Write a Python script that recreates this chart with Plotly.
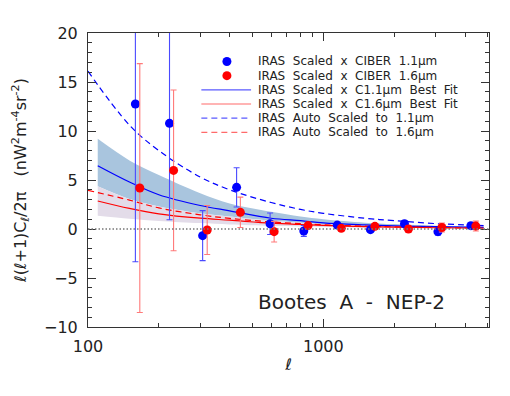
import plotly.graph_objects as go

# ---------------- data ----------------
ell_11 = [159, 222, 307, 428, 594, 826, 1146, 1586, 2212, 3069, 4237]
cl_11 = [12.76, 10.78, -0.68, 4.25, 0.54, -0.2, 0.4, -0.07, 0.54, -0.27, 0.34]
err_11 = [16.1, 9.83, 2.55, 2.0, 1.1, 0.55, 0.25, 0.2, 0.3, 0.35, 0.3]

ell_16 = [166, 231, 321, 444, 618, 861, 1192, 1656, 2300, 3190, 4446]
cl_16 = [4.18, 5.98, -0.1, 1.7, -0.27, 0.35, 0.07, 0.27, 0.0, 0.15, 0.3]
err_16 = [12.7, 8.2, 2.5, 1.55, 1.05, 0.33, 0.25, 0.25, 0.3, 0.45, 0.5]

ell_fit = [110, 150, 200, 300, 400, 600, 800, 1000, 1500, 2000, 3000, 4000, 4800]
fit_11 = [6.46, 4.8, 3.5, 2.4, 1.85, 1.1, 0.85, 0.62, 0.42, 0.32, 0.24, 0.19, 0.17]
band_11_hi = [9.2, 7.0, 5.5, 3.65, 2.6, 1.75, 1.27, 1.0, 0.65, 0.5, 0.33, 0.26, 0.22]
fit_16 = [2.86, 2.1, 1.55, 1.1, 0.9, 0.6, 0.46, 0.37, 0.25, 0.2, 0.13, 0.1, 0.09]
band_16_hi = [4.35, 3.05, 2.3, 1.6, 1.28, 0.85, 0.65, 0.52, 0.36, 0.28, 0.19, 0.15, 0.13]
band_16_lo = [1.36, 1.05, 0.82, 0.6, 0.47, 0.33, 0.26, 0.21, 0.15, 0.12, 0.09, 0.07, 0.06]

ell_auto = [100, 150, 200, 300, 400, 600, 800, 1000, 1500, 2000, 3000, 4000, 4800]
auto_11 = [16.1, 10.6, 8.0, 5.3, 4.0, 2.7, 2.0, 1.6, 1.1, 0.85, 0.55, 0.42, 0.34]
auto_16 = [3.94, 2.95, 2.15, 1.45, 1.08, 0.72, 0.54, 0.43, 0.29, 0.22, 0.15, 0.11, 0.09]

legend_labels = [
    "IRAS  Scaled  x  CIBER  1.1μm",
    "IRAS  Scaled  x  CIBER  1.6μm",
    "IRAS  Scaled  x  C1.1μm  Best  Fit",
    "IRAS  Scaled  x  C1.6μm  Best  Fit",
    "IRAS  Auto  Scaled  to  1.1μm",
    "IRAS  Auto  Scaled  to  1.6μm",
]
x_major = [100, 1000]
x_minor = [200, 300, 400, 500, 600, 700, 800, 900, 2000, 3000, 4000, 5000]

BLUE = "#0000ff"
RED = "#ff0000"
FONT = "DejaVu Sans"

fig = go.Figure()

# bands
fig.add_trace(go.Scatter(x=ell_fit, y=band_16_hi, mode="lines", line=dict(width=0, shape="spline"),
                         showlegend=False, hoverinfo="skip"))
fig.add_trace(go.Scatter(x=ell_fit, y=band_11_hi, mode="lines", line=dict(width=0, shape="spline"),
                         fill="tonexty", fillcolor="#a9c5de", showlegend=False, hoverinfo="skip"))
fig.add_trace(go.Scatter(x=ell_fit, y=band_16_lo, mode="lines", line=dict(width=0, shape="spline"),
                         showlegend=False, hoverinfo="skip"))
fig.add_trace(go.Scatter(x=ell_fit, y=band_16_hi, mode="lines", line=dict(width=0, shape="spline"),
                         fill="tonexty", fillcolor="#e3dce9", showlegend=False, hoverinfo="skip"))

# lines
fig.add_trace(go.Scatter(x=ell_fit, y=fit_11, mode="lines", line=dict(color=BLUE, width=1.2, shape="spline"),
                         showlegend=False))
fig.add_trace(go.Scatter(x=ell_fit, y=fit_16, mode="lines", line=dict(color=RED, width=1.2, shape="spline"),
                         showlegend=False))
fig.add_trace(go.Scatter(x=ell_auto, y=auto_11, mode="lines",
                         line=dict(color=BLUE, width=1.2, shape="spline", dash="6px,4px"), showlegend=False))
fig.add_trace(go.Scatter(x=ell_auto, y=auto_16, mode="lines",
                         line=dict(color=RED, width=1.2, shape="spline", dash="6px,4px"), showlegend=False))

# points
fig.add_trace(go.Scatter(x=ell_11, y=cl_11, mode="markers",
                         marker=dict(color=BLUE, size=9, line=dict(width=0)),
                         error_y=dict(type="data", array=err_11, color="#4a4aff", thickness=1.1, width=3),
                         showlegend=False))
fig.add_trace(go.Scatter(x=ell_16, y=cl_16, mode="markers",
                         marker=dict(color=RED, size=9, line=dict(width=0)),
                         error_y=dict(type="data", array=err_16, color="#ff7a7a", thickness=1.1, width=3),
                         showlegend=False))

# ---- layout geometry (page body has an 8px margin) ----
OFF = 8
W, H = 510 - OFF, 396 - OFF
L, T = 86 - OFF, 33 - OFF
pw, ph = 403.3, 294.4
R = W - L - pw
B = H - T - ph


def px(xp):
    return (xp - 86) / pw


def py(yp):
    return (33 + ph - yp) / ph


shapes = [dict(type="line", xref="paper", yref="y", x0=0, x1=1, y0=0, y1=0,
               line=dict(color="#777777", width=1.5, dash="1.5px,2px"), layer="above")]
annotations = []

# legend (manual)
rows_y = [61.5, 75.7, 89.9, 104.1, 118.3, 132.5]
for i, lab in enumerate(legend_labels):
    yc = py(rows_y[i])
    if i < 2:
        shapes.append(dict(type="circle", xref="paper", yref="paper", xsizemode="pixel", ysizemode="pixel",
                           xanchor=px(225.7), yanchor=yc, x0=-4.5, x1=4.5, y0=-4.5, y1=4.5,
                           fillcolor=[BLUE, RED][i], line=dict(width=0)))
    else:
        col = "#5a5aff" if i in (2, 4) else "#ff6a6a"
        shapes.append(dict(type="line", xref="paper", yref="paper", x0=px(200), x1=px(250), y0=yc, y1=yc,
                           line=dict(color=col, width=1.2, dash="solid" if i < 4 else "6px,4px")))
    annotations.append(dict(xref="paper", yref="paper", x=px(255), y=yc, xanchor="left", yanchor="middle",
                            text=lab, showarrow=False, font=dict(family=FONT, size=12, color="#222222")))

annotations.append(dict(xref="paper", yref="paper", x=px(351), y=py(302), xanchor="center", yanchor="middle",
                        text="Bootes  A  -  NEP-2", showarrow=False,
                        font=dict(family=FONT, size=20, color="#222222")))

fig.update_layout(
    width=W, height=H,
    margin=dict(l=L, r=R, t=T, b=B, pad=0),
    paper_bgcolor="white", plot_bgcolor="white",
    font=dict(family=FONT, size=16, color="#222222"),
    shapes=shapes, annotations=annotations,
    showlegend=False,
)
fig.update_xaxes(
    type="log", range=[2, 3.704],
    tickmode="array", tickvals=x_major, ticktext=[str(v) for v in x_major],
    ticks="inside", ticklen=8, tickcolor="#333333",
    minor=dict(tickmode="array", tickvals=x_minor, ticks="inside", ticklen=4, tickcolor="#333333"),
    showline=True, linecolor="#333333", linewidth=1, mirror="ticks",
    showgrid=False, zeroline=False,
    tickfont=dict(size=16), ticklabelstandoff=5,
    title=dict(text="ℓ", font=dict(size=16), standoff=3),
)
fig.update_yaxes(
    range=[-10, 20], tickmode="linear", tick0=0, dtick=5,
    ticks="inside", ticklen=8, tickcolor="#333333",
    minor=dict(dtick=1, ticks="inside", ticklen=4, tickcolor="#333333"),
    showline=True, linecolor="#333333", linewidth=1, mirror="ticks",
    showgrid=False, zeroline=False,
    tickfont=dict(size=16), ticklabelstandoff=6,
    title=dict(text="ℓ(ℓ+1)C<sub>ℓ</sub>/2π   (nW<sup>2</sup>m<sup>-4</sup>sr<sup>-2</sup>)",
               font=dict(size=16), standoff=13),
)

fig.write_html("out.html")
